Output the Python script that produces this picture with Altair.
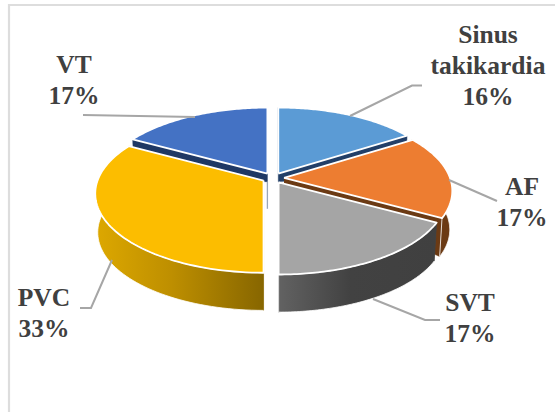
import numpy as np
import pandas as pd
import altair as alt

# Rhythm categories and their shares, clockwise from twelve o'clock
categories = ["Sinus takikardia", "AF", "SVT", "PVC", "VT"]
values = [16, 17, 17, 33, 17]
top_colors = ["#5B9BD5", "#ED7D31", "#A5A5A5", "#FCBD00", "#4472C4"]
wall_colors = ["#223F68", "#6B3A14", "#454545", "#8F6C00", "#1F3864"]

W, H = 555, 412

# Tilted-disc projection of the pie
CX, CY = 273, 178
RX, RY = 166, 77
PERSPECTIVE = 0.165
DEPTH = 39
APEX_DEPTH = 8
FLOOR_SCALE = 0.985
EXPLODE_X, EXPLODE_Y = 11, 5


def project(theta, off):
    v = np.cos(theta)
    s = 1 / (1 + PERSPECTIVE * v)
    return off[0] + RX * np.sin(theta) * s, off[1] - RY * v * s


def polygon(xs, ys):
    return pd.DataFrame({"x": xs, "y": ys, "i": np.arange(len(xs))})


X_SCALE = alt.Scale(domain=[0, W], range=[0, W], nice=False, zero=False)
Y_SCALE = alt.Scale(domain=[0, H], range=[0, H], nice=False, zero=False)


def shape(df, fill, stroke="#FFFFFF", width=1.5):
    return alt.Chart(df).mark_line(
        fill=fill, stroke=stroke, strokeWidth=width, strokeJoin="round", interpolate="linear"
    ).encode(
        x=alt.X("x:Q", scale=X_SCALE, axis=None),
        y=alt.Y("y:Q", scale=Y_SCALE, axis=None),
        order=alt.Order("i:Q"),
    )


def polyline(xs, ys, color="#A6A6A6", width=2):
    return alt.Chart(polygon(xs, ys)).mark_line(
        color=color, strokeWidth=width
    ).encode(
        x=alt.X("x:Q", scale=X_SCALE, axis=None),
        y=alt.Y("y:Q", scale=Y_SCALE, axis=None),
        order=alt.Order("i:Q"),
    )


def gradient(stops):
    return alt.LinearGradient(
        gradient="linear", x1=0, x2=1, y1=0, y2=0,
        stops=[alt.GradientStop(offset=o, color=c) for o, c in stops],
    )


wall_fills = {
    "SVT": gradient([(0, "#626262"), (0.45, "#424242"), (1, "#404040")]),
    "PVC": gradient([(0, "#DDA800"), (0.45, "#BE8F00"), (1, "#876600")]),
}

layers = []

fractions = np.array(values) / sum(values)
ends = np.cumsum(fractions) * 2 * np.pi
starts = ends - fractions * 2 * np.pi
slices = {}
for k, name in enumerate(categories):
    mid = (starts[k] + ends[k]) / 2
    off = (CX + EXPLODE_X * np.sin(mid), CY - EXPLODE_Y * np.cos(mid))
    thetas = np.linspace(starts[k], ends[k], 70)
    slices[name] = (k, off, thetas)

# Drawn back to front so nearer slices cover the walls of farther ones
for name in ["Sinus takikardia", "VT", "AF", "PVC", "SVT"]:
    k, off, thetas = slices[name]
    ax, ay = project(thetas, off)
    bx = off[0] + (ax - off[0]) * FLOOR_SCALE
    by = off[1] + (ay - off[1]) * FLOOR_SCALE + DEPTH
    wall = wall_fills.get(name, wall_colors[k])

    # Cut faces along both radial edges
    for j in (0, -1):
        layers.append(shape(
            polygon([off[0], ax[j], bx[j], off[0]], [off[1], ay[j], by[j], off[1] + APEX_DEPTH]),
            wall_colors[k], stroke=wall_colors[k], width=0.5,
        ))
    # Curved rim, only on slices whose outer edge faces the viewer
    if np.any(np.cos(thetas) < 0):
        layers.append(shape(
            polygon(np.r_[ax, bx[::-1]], np.r_[ay, by[::-1]]), wall, width=0.8,
        ))
    # Top face
    layers.append(shape(
        polygon(np.r_[off[0], ax, off[0]], np.r_[off[1], ay, off[1]]), top_colors[k], width=1.8,
    ))

# Inner edge of the VT slice showing through the gap beside PVC
vt_off = slices["VT"][1]
layers.append(polyline(
    [vt_off[0], vt_off[0]], [vt_off[1] + APEX_DEPTH, vt_off[1] + DEPTH * 0.9],
    color="#9BA6B6", width=1.3,
))

# Leader lines from slices to their labels
leaders = [
    ([350, 412, 422], [116, 85.5, 85.5]),
    ([449, 497], [180, 201]),
    ([373, 425, 440], [299, 320, 320]),
    ([112, 91, 80], [260, 308, 308]),
    ([83, 195], [115, 117]),
]
for lx, ly in leaders:
    layers.append(polyline(lx, ly))

# Picture frame along the top and left edges
layers.append(polyline([W, 9, 9], [5, 5, H], color="#DDDDDD", width=2.2))

# Category and percentage labels, one row per text line
label_anchor = {
    "Sinus takikardia": (488, 35),
    "AF": (522, 187),
    "SVT": (470, 303),
    "PVC": (44, 298),
    "VT": (74, 65),
}
label_rows = []
for name, value in zip(categories, values):
    ax_, ay_ = label_anchor[name]
    lines = name.split(" ") + [f"{value}%"]
    for n, line in enumerate(lines):
        label_rows.append({"x": ax_, "y": ay_ + n * 31, "t": line})

layers.append(
    alt.Chart(pd.DataFrame(label_rows)).mark_text(
        font="Liberation Serif", fontSize=25.5, fontWeight="bold", color="#404040",
        align="center", baseline="middle",
    ).encode(
        x=alt.X("x:Q", scale=X_SCALE, axis=None),
        y=alt.Y("y:Q", scale=Y_SCALE, axis=None),
        text="t:N",
    )
)

chart = alt.layer(*layers).properties(
    width=W, height=H, padding=0, autosize=alt.AutoSizeParams(type="none"), background="#FFFFFF"
).configure_view(stroke=None)

chart.save("out.html", embed_options={"renderer": "svg", "actions": False})
